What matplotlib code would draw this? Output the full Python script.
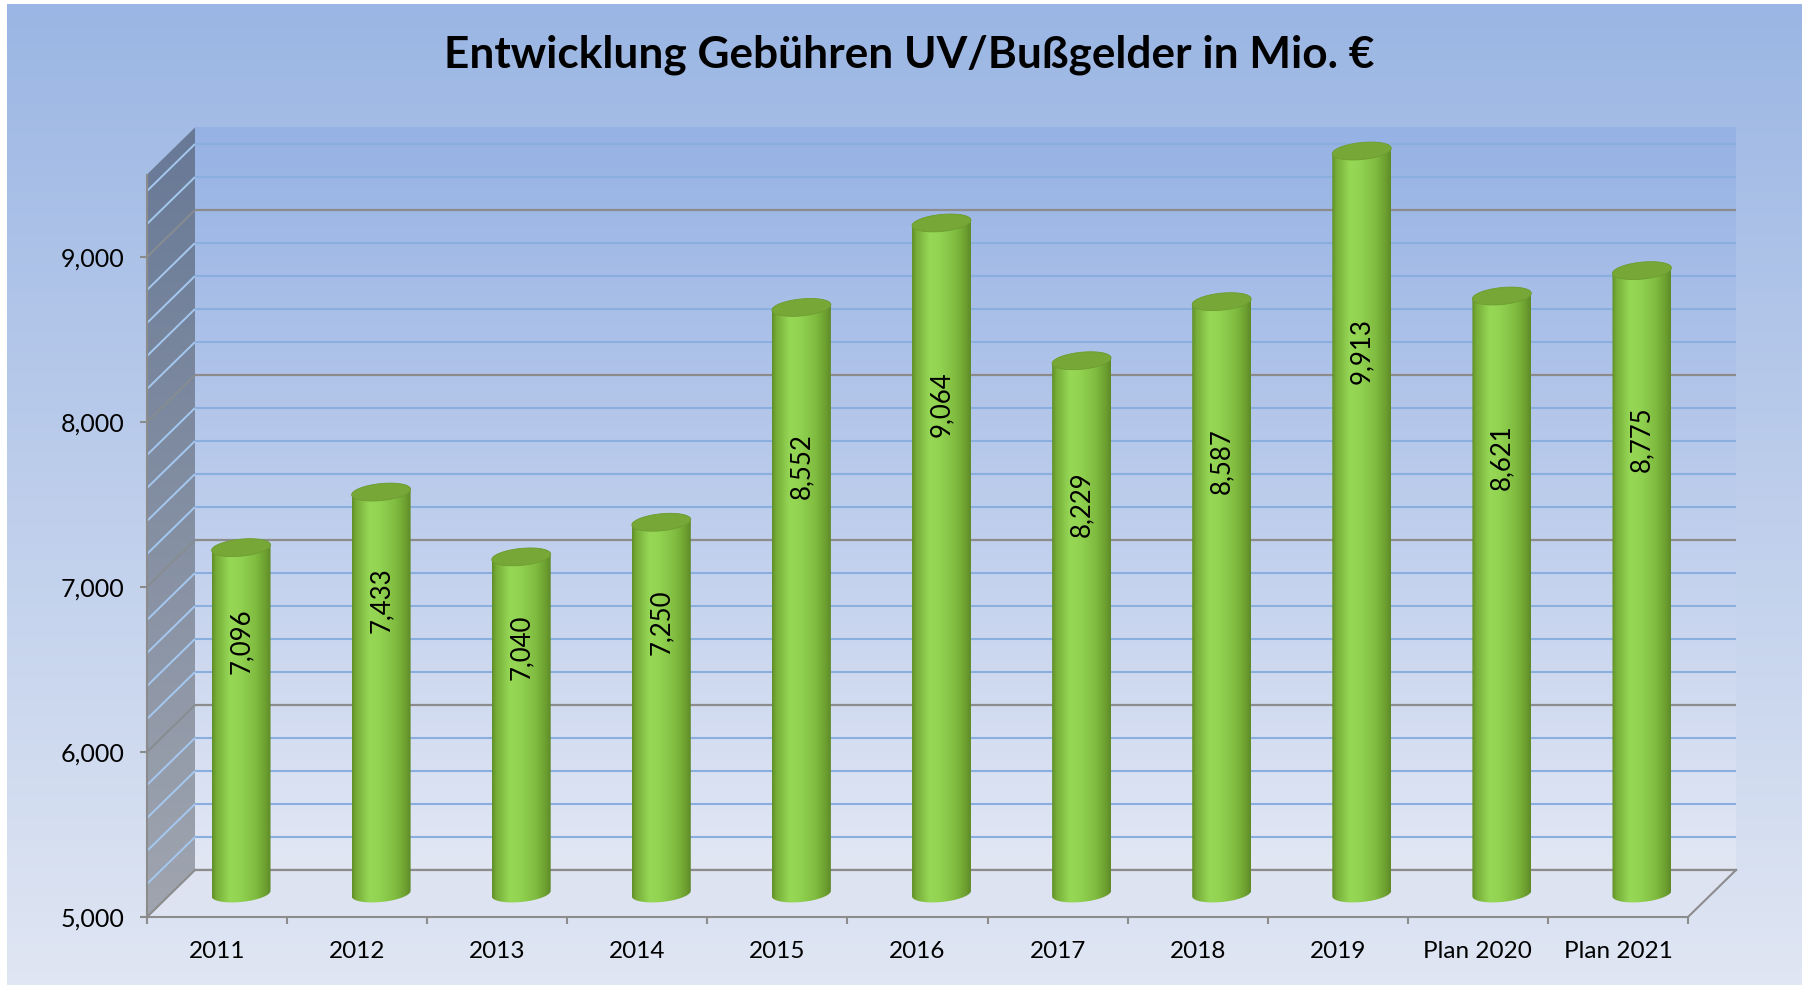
import numpy as np
import matplotlib
matplotlib.use("Agg")
import matplotlib.pyplot as plt
from matplotlib.patches import Polygon
from matplotlib.colors import LinearSegmentedColormap

# ---------------- data ----------------
title = "Entwicklung Gebühren UV/Bußgelder in Mio. €"
categories = ["2011", "2012", "2013", "2014", "2015", "2016", "2017", "2018",
              "2019", "Plan 2020", "Plan 2021"]
values = [7096, 7433, 7040, 7250, 8552, 9064, 8229, 8587, 9913, 8621, 8775]
y_ticks = [5000, 6000, 7000, 8000, 9000]
y_tick_labels = ["5,000", "6,000", "7,000", "8,000", "9,000"]
y_min, y_max = 5000, 9500
minor_step = 200

# ---------------- layout / style ----------------
W_PX, H_PX = 1802, 985
FONT = ["Lato", "DejaVu Sans"]
plt.rcParams["font.family"] = FONT
GRAY = (140 / 255, 140 / 255, 140 / 255)

fig = plt.figure(figsize=(W_PX / 100, H_PX / 100), dpi=100, facecolor="white")

n = len(categories)
L = 147 / W_PX
B = (H_PX - 917) / H_PX
Wf = 1541 / W_PX
Hf = 742.5 / H_PX
yr = y_max - y_min

# background gradient (white border at top & left)
bg = fig.add_axes([7 / W_PX, 0, 1 - 7 / W_PX, 1 - 4 / H_PX], zorder=0)
top_c = np.array([155, 182, 228]) / 255
bot_c = np.array([224, 230, 243]) / 255
t = np.linspace(0, 1, 256)[:, None, None]
bg.imshow(top_c * (1 - t) + bot_c * t, aspect="auto", extent=[0, 1, 0, 1])
bg.set_axis_off()

# scene axes covering whole figure, same data scale as the front plane
scene = fig.add_axes([0, 0, 1, 1], zorder=1)
scene.patch.set_alpha(0)
xs0 = 0 - L / Wf * n
xs1 = n + (1 - L - Wf) / Wf * n
ys0 = y_min - B / Hf * yr
ys1 = y_max + (1 - B - Hf) / Hf * yr
scene.set_axis_off()

# oblique depth vector (full depth) in data units
DX = 48 / 1541 * n
DY = 47 / 742.5 * yr

def vgrad(ax, extent, c_top, c_bot, clip=None, z=1):
    tt = np.linspace(0, 1, 256)[:, None, None]
    arr = np.array(c_top) / 255 * (1 - tt) + np.array(c_bot) / 255 * tt
    im = ax.imshow(arr, aspect="auto", extent=extent, zorder=z, interpolation="bilinear")
    if clip is not None:
        im.set_clip_path(clip)
    return im

# back wall
vgrad(scene, [DX, n + DX, y_min + DY, y_max + DY], (150, 178, 228), (226, 231, 244), z=1)
for v in range(y_min, y_max, minor_step):
    major = (v % 1000 == 0)
    scene.plot([DX, n + DX], [v + DY, v + DY],
               color=GRAY if major else (138 / 255, 175 / 255, 222 / 255),
               lw=1.6 if major else 1.5, zorder=2 if major else 1.8,
               solid_capstyle="butt")

# floor
floor = Polygon([(0, y_min), (n, y_min), (n + DX, y_min + DY), (DX, y_min + DY)],
                closed=True, facecolor=(221 / 255, 227 / 255, 241 / 255), edgecolor="none", zorder=2.5)
scene.add_patch(floor)
scene.plot([n, n + DX], [y_min, y_min + DY], color=GRAY, lw=1.5, zorder=4)
scene.plot([DX, n + DX], [y_min + DY, y_min + DY], color=GRAY, lw=1.6, zorder=4)

# left wall
lw_poly = Polygon([(0, y_min), (0, y_max), (DX, y_max + DY), (DX, y_min + DY)],
                  closed=True, facecolor="none", edgecolor="none", transform=scene.transData)
scene.add_patch(lw_poly)
vgrad(scene, [0, DX, y_min, y_max + DY], (104, 121, 150), (160, 165, 175), clip=lw_poly, z=3)
for v in range(y_min + minor_step, y_max, minor_step):
    major = (v % 1000 == 0)
    scene.plot([0, DX], [v, v + DY],
               color=(135 / 255, 140 / 255, 145 / 255) if major else (165 / 255, 200 / 255, 240 / 255),
               lw=1.4, zorder=3.5, solid_capstyle="butt")
scene.plot([0, DX], [y_min, y_min + DY], color=GRAY, lw=1.5, zorder=4)

# cylinders
cyl_cmap = LinearSegmentedColormap.from_list("cyl", [
    (0.00, (96 / 255, 142 / 255, 40 / 255)),
    (0.07, (118 / 255, 172 / 255, 55 / 255)),
    (0.30, (150 / 255, 216 / 255, 86 / 255)),
    (0.45, (147 / 255, 213 / 255, 83 / 255)),
    (0.75, (127 / 255, 187 / 255, 63 / 255)),
    (0.92, (107 / 255, 157 / 255, 47 / 255)),
    (1.00, (94 / 255, 138 / 255, 40 / 255)),
])
r = 0.20
rd = 0.19
ex, ey = rd * DX, rd * DY
wx = np.hypot(r, ex)
t0 = np.arctan2(ex, r)

def ell(cx, cy, ts):
    return np.column_stack([cx + r * np.cos(ts) + ex * np.sin(ts), cy + ey * np.sin(ts)])

grad = np.linspace(0, 1, 256)[None, :]
for i, v in enumerate(values):
    vc = min(v, y_max)
    cx = i + 0.5 + 0.5 * DX
    yb = y_min + 0.5 * DY
    yt = vc + 0.5 * DY
    front_arc = ell(cx, yb, np.linspace(t0 + np.pi, t0 + 2 * np.pi, 80))
    back_arc = ell(cx, yt, np.linspace(t0, t0 + np.pi, 80))
    outline = np.vstack([front_arc, back_arc])
    clip = Polygon(outline, closed=True, facecolor="none", edgecolor="none", transform=scene.transData)
    scene.add_patch(clip)
    im = scene.imshow(grad, cmap=cyl_cmap, aspect="auto",
                      extent=[cx - wx, cx + wx, yb - ey - 5, yt + ey + 5],
                      zorder=5 + i * 0.01, interpolation="bilinear")
    im.set_clip_path(clip)
    top = Polygon(ell(cx, yt, np.linspace(0, 2 * np.pi, 120)), closed=True,
                  facecolor=(119 / 255, 167 / 255, 55 / 255), edgecolor=(110 / 255, 156 / 255, 50 / 255),
                  lw=0.6, zorder=5.005 + i * 0.01)
    scene.add_patch(top)
    scene.text(cx, yb + 0.73 * (vc - y_min), f"{v:,}", rotation=90, ha="center", va="center",
               fontsize=18.5, color="black", zorder=10)

scene.set_xlim(xs0, xs1)
scene.set_ylim(ys0, ys1)

# front plane axes: spines, ticks, labels
front = fig.add_axes([L, B, Wf, Hf], zorder=2)
front.patch.set_alpha(0)
front.set_xlim(0, n)
front.set_ylim(y_min, y_max)
for s in ["top", "right"]:
    front.spines[s].set_visible(False)
for s in ["left", "bottom"]:
    front.spines[s].set_color(GRAY)
    front.spines[s].set_linewidth(1.5)
front.set_yticks(y_ticks, y_tick_labels)
front.set_xticks(np.arange(n + 1))
front.set_xticklabels([])
front.set_xticks(np.arange(n) + 0.5, minor=True)
front.set_xticklabels(categories, minor=True)
front.tick_params(axis="x", which="minor", length=0, pad=17, labelsize=17.5)
front.tick_params(axis="x", which="major", length=5, width=1.5, color=GRAY, direction="out")
front.tick_params(axis="y", length=5, width=1.5, color=GRAY, pad=11, labelsize=18, direction="out")

# title, fitted to the reference width
tt_ = fig.text(909 / W_PX, 1 - 55 / H_PX, title, ha="center", va="center",
               fontsize=26, fontweight="bold", color="black")
renderer = fig.canvas.get_renderer()
w = tt_.get_window_extent(renderer).width
tt_.set_fontsize(26 * 931 / w)

fig.savefig("out.png", dpi=100, facecolor="white")
